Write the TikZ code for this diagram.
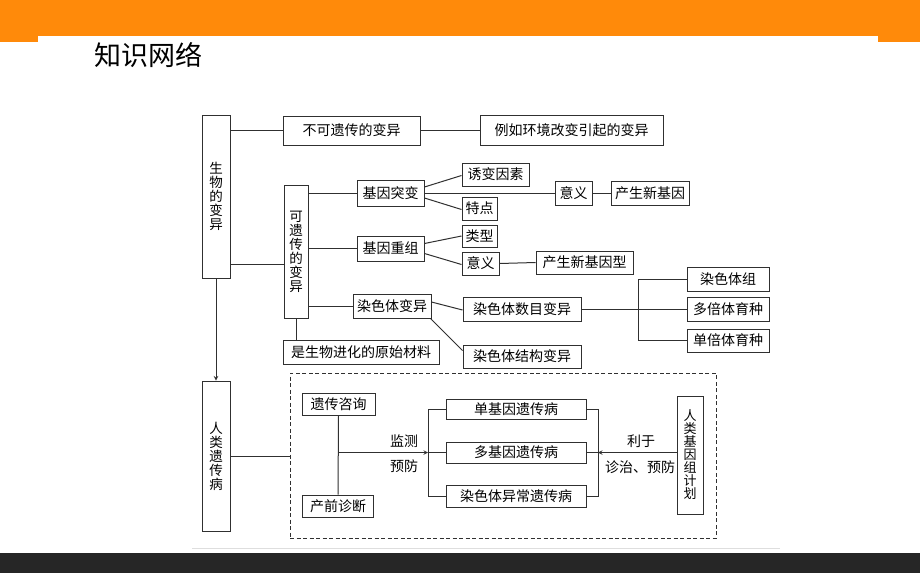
\documentclass[tikz,border=0pt]{standalone}
\usepackage{fontspec}
\setmainfont{Noto Sans CJK SC}
\usetikzlibrary{calc}
\definecolor{barorange}{HTML}{FF8A0A}
\definecolor{bardark}{HTML}{262626}
\definecolor{linegray}{HTML}{303030}

\begin{document}
\begin{tikzpicture}[x=1pt,y=-1pt]%%knowledge map

        \tikzstyle{blk}  = [draw=linegray, line width=1pt, inner sep=0pt, fill=white, font=\fontsize{14}{14}\selectfont]
        \tikzstyle{vblk} = [blk, align=center, font=\fontsize{13.5}{14}\selectfont]
        \tikzstyle{conn} = [draw=linegray, line width=1pt]
        \tikzstyle{lbl}  = [inner sep=0pt, font=\fontsize{14}{14}\selectfont]

        % page frame
        \useasboundingbox (0,0) rectangle (920,573);
        \fill[white] (0,0) rectangle (920,573);
        \fill[barorange] (0,0) rectangle (920,42);
        \fill[white] (38,36) rectangle (878,42);
        \fill[bardark] (0,553) rectangle (920,573);
        \draw[black!13, line width=1pt] (192,548) -- (780,548);
        \node[inner sep=0pt, anchor=west, font=\fontsize{27}{29}\selectfont] (title) at (94,55) {知识网络};

        % upper part
        \node [vblk, minimum width=28pt, minimum height=163pt](bw) at (216,196.5) {生\\物\\的\\变\\异};
        \node [blk, minimum width=137pt, minimum height=29pt](bkyc) at (351.5,130.5) {不可遗传的变异};
        \node [blk, minimum width=183pt, minimum height=30pt](lirh) at (571.5,130.5) {例如环境改变引起的变异};
        \node [vblk, minimum width=24pt, minimum height=133pt](kyc) at (296,251.5) {可\\遗\\传\\的\\变\\异};
        \node [blk, minimum width=67pt, minimum height=26pt](jtb) at (390.5,193) {基因突变};
        \node [blk, minimum width=67pt, minimum height=25pt](jcz) at (390.5,248.5) {基因重组};
        \node [blk, minimum width=78pt, minimum height=24pt](rsb) at (392,306) {染色体变异};
        \node [blk, minimum width=156pt, minimum height=24pt](yuan) at (361,352) {是生物进化的原始材料};
        \node [blk, minimum width=67pt, minimum height=23pt](ybys) at (495.5,174.5) {诱变因素};
        \node [blk, minimum width=35pt, minimum height=23pt](td) at (479.5,208.5) {特点};
        \node [blk, minimum width=37pt, minimum height=24pt](yy1) at (573.5,193) {意义};
        \node [blk, minimum width=78pt, minimum height=24pt](xjy) at (650,193) {产生新基因};
        \node [blk, minimum width=35pt, minimum height=22pt](lx) at (479.5,236) {类型};
        \node [blk, minimum width=37pt, minimum height=23pt](yy2) at (480.5,263.5) {意义};
        \node [blk, minimum width=97pt, minimum height=23pt](xjyx) at (584.5,262.5) {产生新基因型};
        \node [blk, minimum width=118pt, minimum height=24pt](smb) at (522,309) {染色体数目变异};
        \node [blk, minimum width=118pt, minimum height=23pt](jgb) at (522,356.5) {染色体结构变异};
        \node [blk, minimum width=82pt, minimum height=24pt](rst) at (728,279) {染色体组};
        \node [blk, minimum width=82pt, minimum height=24pt](bbt) at (728,309) {多倍体育种};
        \node [blk, minimum width=82pt, minimum height=23pt](dbt) at (728,340.5) {单倍体育种};

        \draw [conn] (bw.east |- bkyc.west) -- (bkyc.west);
        \draw [conn] (bkyc.east) -- (lirh.west);
        \draw [conn] ($(bw.east |- kyc.west)+(0,12.5)$) -- ($(kyc.west)+(0,12.5)$);
        \draw [conn] (kyc.east |- jtb.west) -- (jtb.west);
        \draw [conn] (kyc.east |- jcz.west) -- (jcz.west);
        \draw [conn] (kyc.east |- rsb.west) -- (rsb.west);
        \draw [conn] (kyc.south) -- (kyc.south |- yuan.north);
        \draw [conn] ([yshift=6pt]jtb.east) -- ([yshift=-1pt]ybys.west);
        \draw [conn] ([yshift=-5pt]jtb.east) -- ([yshift=-1pt]td.west);
        \draw [conn] (jtb.east) -- (yy1.west);
        \draw [conn] (yy1.east) -- (xjy.west);
        \draw [conn] ([yshift=5pt]jcz.east) -- (lx.west);
        \draw [conn] ([yshift=-5pt]jcz.east) -- ([yshift=-1pt]yy2.west);
        \draw [conn] (yy2.east) -- (xjyx.west);
        \draw [conn] ([yshift=4pt]rsb.east) -- ([yshift=-1pt]smb.west);
        \draw [conn] ([xshift=-1pt]rsb.south east) -- ([yshift=6pt]jgb.west);

        \coordinate (sb) at (638,309);
        \draw [conn] (smb.east) -- (sb);
        \draw [conn] (rst.west) -- (rst.west -| sb) -- (dbt.west -| sb) -- (dbt.west);
        \draw [conn] (sb) -- (bbt.west);

        % lower part
        \node [vblk, minimum width=28pt, minimum height=150pt](rlb) at (216,456) {人\\类\\遗\\传\\病};
        \node [draw=linegray, line width=1pt, dash pattern=on 4pt off 2.5pt, inner sep=0pt,
               minimum width=426pt, minimum height=165pt](frame) at (503,455.5) {};
        \node [blk, minimum width=73pt, minimum height=22pt](yczx) at (338.5,404) {遗传咨询};
        \node [blk, minimum width=71pt, minimum height=22pt](cqzd) at (338,506) {产前诊断};
        \node [blk, minimum width=140pt, minimum height=20pt](djy) at (516,409) {单基因遗传病};
        \node [blk, minimum width=140pt, minimum height=21pt](dgy) at (516,452.5) {多基因遗传病};
        \node [blk, minimum width=140pt, minimum height=22pt](rsyc) at (516,496) {染色体异常遗传病};
        \node [vblk, minimum width=26pt, minimum height=118pt, font=\fontsize{13}{13}\selectfont](rjz) at (690,455) {人\\类\\基\\因\\组\\计\\划};

        \draw [conn, -stealth] (bw.south) -- (rlb.north);
        \draw [conn] (rlb.east) -- (rlb.east -| frame.west);
        \draw [conn] (yczx.south) -- (cqzd.north);

        \coordinate (m) at (yczx.south |- dgy.west);
        \coordinate (lb) at (428,452.5);
        \coordinate (rb) at (598,452.5);
        \draw [conn, -stealth] (m) -- (lb);
        \draw [conn] (djy.west) -- (djy.west -| lb) -- (rsyc.west -| lb) -- (rsyc.west);
        \draw [conn] (lb) -- (dgy.west);
        \draw [conn] (djy.east) -- (djy.east -| rb) -- (rsyc.east -| rb) -- (rsyc.east);
        \draw [conn] (dgy.east) -- (rb);
        \draw [conn, -stealth] (rjz.west |- rb) -- (rb);

        \node [lbl](jc) at (404,441) {监测};
        \node [lbl](yf) at (404,466) {预防};
        \node [lbl](ly) at (641,441) {利于};
        \node [lbl](zz) at (640,467) {诊治、预防};
\end{tikzpicture}
\end{document}
